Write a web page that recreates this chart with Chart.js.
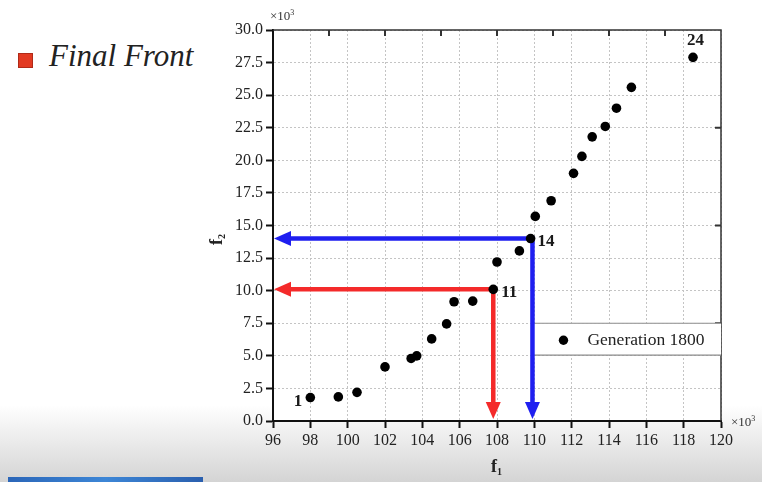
<!DOCTYPE html>
<html>
<head>
<meta charset="utf-8">
<script src="https://cdn.jsdelivr.net/npm/chart.js@4.4.0/dist/chart.umd.min.js"></script>
<style>
  html, body { margin: 0; padding: 0; }
  body {
    width: 762px; height: 482px; overflow: hidden; position: relative;
    background: linear-gradient(to bottom, #ffffff 0px, #ffffff 405px, #d4d4d4 482px);
    font-family: "Liberation Serif", "DejaVu Serif", serif;
  }
  #chart { position: absolute; left: 0; top: 0; }
  .lbl { position: absolute; color: #222; white-space: nowrap; }
  #title { left: 49px; top: 38px; font-style: italic; font-size: 31px; color: #222; }
  #sq { position: absolute; left: 18px; top: 53px; width: 13px; height: 13px; background: #e23a22; border: 1px solid #b02a18; }
  #f1 { left: 491px; top: 456px; font-weight: bold; font-size: 18px; }
  #f2 { left: 211px; top: 229px; font-weight: bold; font-size: 18px; transform: rotate(-90deg); transform-origin: 50% 50%; }
  .sub { font-size: 10px; vertical-align: -3px; }
  #xe1 { left: 270px; top: 8px; font-size: 13px; color: #333; }
  #xe2 { left: 731px; top: 414px; font-size: 13px; color: #333; }
  .sup { font-size: 8px; vertical-align: 5px; }
  #bar { position: absolute; left: 8px; top: 477px; width: 195px; height: 5px; background: linear-gradient(to right, #2b66b8, #3d86d6, #2a5fae); }
</style>
</head>
<body>
<div id="sq"></div>
<div id="title" class="lbl">Final Front</div>
<canvas id="chart" width="762" height="482"></canvas>
<div id="xe1" class="lbl">×10<span class="sup">3</span></div>
<div id="xe2" class="lbl">×10<span class="sup">3</span></div>
<div id="f1" class="lbl">f<span class="sub">1</span></div>
<div id="f2" class="lbl">f<span class="sub">2</span></div>
<div id="bar"></div>
<script>
// ---- data (values in units of 10^3) ----
const f1Values = [98.0, 99.5, 100.5, 102.0, 103.4, 103.7, 104.5, 105.3, 105.7, 106.7, 107.8, 108.0,
                  109.2, 109.8, 110.05, 110.9, 112.1, 112.55, 113.1, 113.8, 114.4, 115.2, 118.5];
const f2Values = [1.8, 1.85, 2.2, 4.15, 4.8, 5.0, 6.3, 7.45, 9.15, 9.2, 10.1, 12.2,
                  13.05, 14.0, 15.7, 16.9, 19.0, 20.3, 21.8, 22.6, 24.0, 25.6, 27.9];
const seriesName = "Generation 1800";

// labelled solutions: index in the arrays above and label text
const labelIndex = [0, 10, 13, 22];
const labelText = ["1", "11", "14", "24"];

// arrows from selected solutions to the axes
const arrowX = [107.8, 109.9];
const arrowY = [10.1, 14.0];
const arrowColors = ["#f42a2a", "#1f1ff0"];

// axes
const xMin = 96, xMax = 120, xStep = 2;
const yMin = 0, yMax = 30, yStep = 2.5;
const topTicks = [99, 102, 105, 108, 111, 114, 117];
const rightTicks = [7.5, 15, 22.5];

const points = f1Values.map((x, i) => ({ x: x, y: f2Values[i] }));

const serif = "'Liberation Serif', 'DejaVu Serif', serif";

const decorPlugin = {
  id: 'decor',
  beforeDraw(chart) {
    const { ctx, chartArea: a } = chart;
    ctx.save();
    ctx.fillStyle = '#ffffff';
    ctx.fillRect(a.left, a.top, a.right - a.left, a.bottom - a.top);
    ctx.restore();
  },
  beforeDatasetsDraw(chart) {
    const { ctx, scales: { x, y } } = chart;
    ctx.save();
    ctx.strokeStyle = '#333';
    ctx.lineWidth = 1.5;
    const a = chart.chartArea;
    ctx.beginPath();
    ctx.moveTo(a.left, a.top); ctx.lineTo(a.right, a.top); ctx.lineTo(a.right, a.bottom);
    ctx.stroke();
    ctx.lineWidth = 2;
    ctx.beginPath();
    topTicks.forEach(v => { const px = x.getPixelForValue(v); ctx.moveTo(px, a.top); ctx.lineTo(px, a.top + 6); });
    rightTicks.forEach(v => { const py = y.getPixelForValue(v); ctx.moveTo(a.right, py); ctx.lineTo(a.right - 6, py); });
    ctx.stroke();

    // legend box
    const lx0 = x.getPixelForValue(arrowX[1]);
    const ly0 = y.getPixelForValue(7.5), ly1 = y.getPixelForValue(5.05);
    ctx.fillStyle = '#fff';
    ctx.fillRect(lx0, ly0, a.right - lx0, ly1 - ly0);
    ctx.strokeStyle = '#8a8a8a';
    ctx.lineWidth = 1.2;
    ctx.beginPath();
    ctx.moveTo(lx0, ly0); ctx.lineTo(a.right, ly0);
    ctx.moveTo(lx0, ly1); ctx.lineTo(a.right, ly1);
    ctx.stroke();
    ctx.fillStyle = '#000';
    ctx.beginPath();
    ctx.arc(lx0 + 31, (ly0 + ly1) / 2 + 1, 4.7, 0, Math.PI * 2);
    ctx.fill();
    ctx.fillStyle = '#222';
    ctx.font = "17.5px " + serif;
    ctx.textBaseline = 'middle';
    ctx.textAlign = 'left';
    ctx.fillText(seriesName, lx0 + 55, (ly0 + ly1) / 2 + 1);

    // arrows
    arrowX.forEach((ax, i) => {
      const cx = x.getPixelForValue(ax), cy = y.getPixelForValue(arrowY[i]);
      const tipL = x.getPixelForValue(xMin) + 1, tipB = y.getPixelForValue(yMin) - 2;
      const hl = 17, hw = 7.5;
      ctx.strokeStyle = arrowColors[i];
      ctx.fillStyle = arrowColors[i];
      ctx.lineWidth = 4.5;
      ctx.lineCap = 'butt';
      ctx.beginPath();
      ctx.moveTo(tipL + hl - 1, cy); ctx.lineTo(cx + 2.25, cy);
      ctx.moveTo(cx, cy - 2.25); ctx.lineTo(cx, tipB - hl + 1);
      ctx.stroke();
      ctx.beginPath();
      ctx.moveTo(tipL, cy); ctx.lineTo(tipL + hl, cy - hw); ctx.lineTo(tipL + hl, cy + hw); ctx.closePath();
      ctx.fill();
      ctx.beginPath();
      ctx.moveTo(cx, tipB); ctx.lineTo(cx - hw, tipB - hl); ctx.lineTo(cx + hw, tipB - hl); ctx.closePath();
      ctx.fill();
    });
    ctx.restore();
  },
  afterDatasetsDraw(chart) {
    const { ctx, scales: { x, y } } = chart;
    ctx.save();
    ctx.fillStyle = '#1a1a1a';
    ctx.font = "bold 17px " + serif;
    ctx.textBaseline = 'middle';
    const offs = [[-8, 4, 'right'], [8, 3, 'left'], [7, 3, 'left'], [-6, -17, 'left']];
    labelIndex.forEach((idx, k) => {
      const px = x.getPixelForValue(f1Values[idx]), py = y.getPixelForValue(f2Values[idx]);
      const o = offs[k];
      ctx.textAlign = o[2];
      ctx.fillText(labelText[k], px + o[0], py + o[1]);
    });
    ctx.restore();
  }
};

new Chart(document.getElementById('chart'), {
  type: 'scatter',
  data: {
    datasets: [{
      label: seriesName,
      data: points,
      backgroundColor: '#000',
      borderColor: '#000',
      pointRadius: 4.8,
      pointHoverRadius: 4.8,
      borderWidth: 0
    }]
  },
  options: {
    responsive: false,
    animation: false,
    events: [],
    layout: { padding: { left: 0, right: 41, top: 30, bottom: 0 } },
    plugins: { legend: { display: false }, tooltip: { enabled: false } },
    scales: {
      x: {
        type: 'linear', min: xMin, max: xMax,
        afterFit: s => { s.height = 61; },
        ticks: { stepSize: xStep, color: '#222', font: { family: serif, size: 16 }, padding: 3, maxRotation: 0,
                 callback: v => String(v) },
        grid: { color: '#c4c4c4', lineWidth: 1, drawTicks: true, tickLength: 7, tickColor: '#111', tickWidth: 2 },
        border: { display: true, color: '#111', width: 2, dash: [2, 2] }
      },
      y: {
        type: 'linear', min: yMin, max: yMax,
        afterFit: s => { s.width = 273; },
        ticks: { stepSize: yStep, color: '#222', font: { family: serif, size: 16 }, padding: 3,
                 callback: v => v.toFixed(1) },
        grid: { color: '#c4c4c4', lineWidth: 1, drawTicks: true, tickLength: 7, tickColor: '#111', tickWidth: 2 },
        border: { display: true, color: '#111', width: 2, dash: [2, 2] }
      }
    }
  },
  plugins: [decorPlugin]
});
</script>
</body>
</html>
